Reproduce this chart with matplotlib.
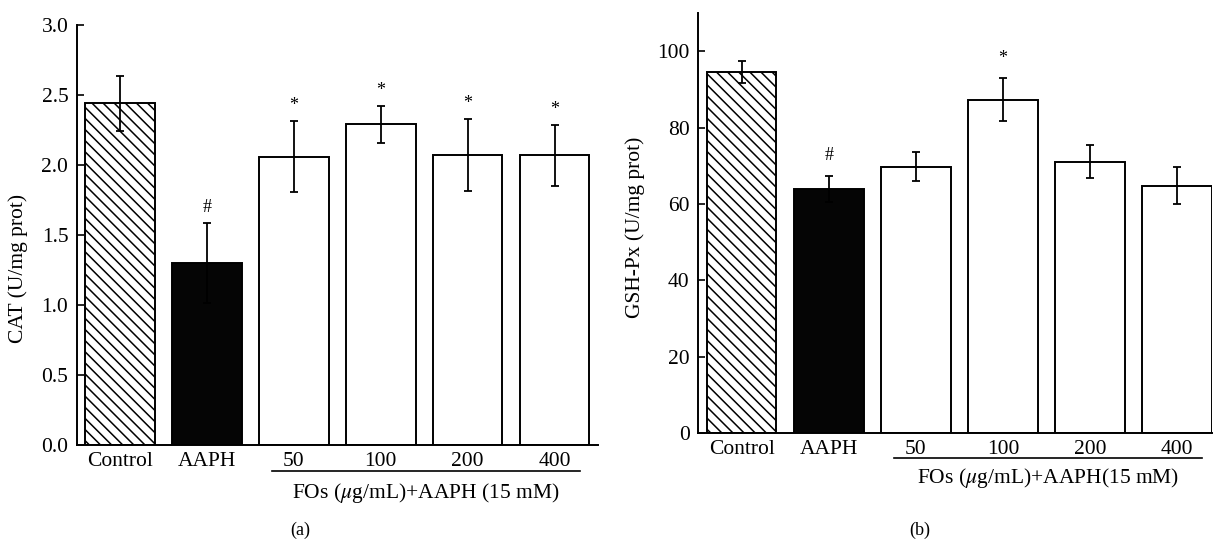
import matplotlib.pyplot as plt
import numpy as np

plt.rcParams['font.family'] = ['Liberation Serif', 'DejaVu Serif']
plt.rcParams['hatch.linewidth'] = 1.1
plt.rcParams['mathtext.fontset'] = 'stix'

# data
groups = ['Control', 'AAPH', '50', '100', '200', '400']
cat_mean = [2.44, 1.30, 2.06, 2.29, 2.07, 2.07]
cat_err = [0.195, 0.285, 0.255, 0.132, 0.256, 0.218]
cat_marks = ['', '#', '*', '*', '*', '*']

gsh_mean = [94.6, 64.0, 69.7, 87.3, 71.1, 64.8]
gsh_err = [2.9, 3.4, 3.8, 5.6, 4.4, 4.8]
gsh_marks = ['', '#', '', '*', '', '']

fig = plt.figure(figsize=(12.15, 5.41), dpi=100)
ax1 = fig.add_axes([0.0631, 0.1775, 0.4291, 0.7763])
ax2 = fig.add_axes([0.5745, 0.1996, 0.4230, 0.7764])


def draw(ax, mean, err, marks, ylim, yticks, ylabel, xright, group_label,
         line_y, text_y, mark_off, label_pos):
    x = np.arange(len(groups))
    faces = ['white', '#050505'] + ['white'] * (len(groups) - 2)
    bars = ax.bar(x, mean, width=0.8, color=faces, edgecolor='black',
                  linewidth=1.4, zorder=2)
    bars[0].set_hatch('\\\\\\')
    ax.errorbar(x, mean, yerr=err, fmt='none', ecolor='black',
                elinewidth=1.3, capsize=2.7, capthick=1.3, zorder=3)
    for xi, m, e, s in zip(x, mean, err, marks):
        if s == '#':
            ax.text(xi, m + e + mark_off, '#', ha='center', va='center',
                    fontsize=13)
        elif s == '*':
            ax.text(xi, m + e + mark_off, '*', ha='center', va='center',
                    fontsize=13)
    ax.set_xlim(-0.5, xright)
    ax.set_ylim(*ylim)
    ax.set_yticks(yticks)
    ax.set_xticks(x)
    ax.set_xticklabels(groups)
    ax.spines['top'].set_visible(False)
    ax.spines['right'].set_visible(False)
    for sp in ['left', 'bottom']:
        ax.spines[sp].set_linewidth(1.4)
    ax.tick_params(direction='in', length=5, width=1.2, labelsize=15.5,
                   pad=6)
    ax.tick_params(axis='x', pad=5)
    ax.set_ylabel(ylabel, fontsize=15.5)
    ax.yaxis.set_label_coords(*label_pos)
    trans = ax.get_xaxis_transform()
    ax.plot([1.75, 5.29], [line_y, line_y], color='black', lw=1.2,
            transform=trans, clip_on=False)
    ax.text(3.52, text_y, group_label, transform=trans, ha='center',
            va='center', fontsize=15.5)


draw(ax1, cat_mean, cat_err, cat_marks, (0, 3.0),
     [0.0, 0.5, 1.0, 1.5, 2.0, 2.5, 3.0], 'CAT (U/mg prot)', 5.5,
     'FOs ($\\mu$g/mL)+AAPH (15 mM)', -0.062, -0.114, 0.11,
     (-0.093, 0.42))
ax1.yaxis.set_major_formatter(plt.FormatStrFormatter('%.1f'))

draw(ax2, gsh_mean, gsh_err, gsh_marks, (0, 110),
     [0, 20, 40, 60, 80, 100], 'GSH-Px (U/mg prot)', 5.4,
     'FOs ($\\mu$g/mL)+AAPH(15 mM)', -0.0595, -0.107, 5.3,
     (-0.103, 0.49))

fig.text(300 / 1215, 1 - 530 / 541, '(a)', ha='center', va='center',
         fontsize=13)
fig.text(920 / 1215, 1 - 530 / 541, '(b)', ha='center', va='center',
         fontsize=13)

plt.savefig('out.png', dpi=100)
